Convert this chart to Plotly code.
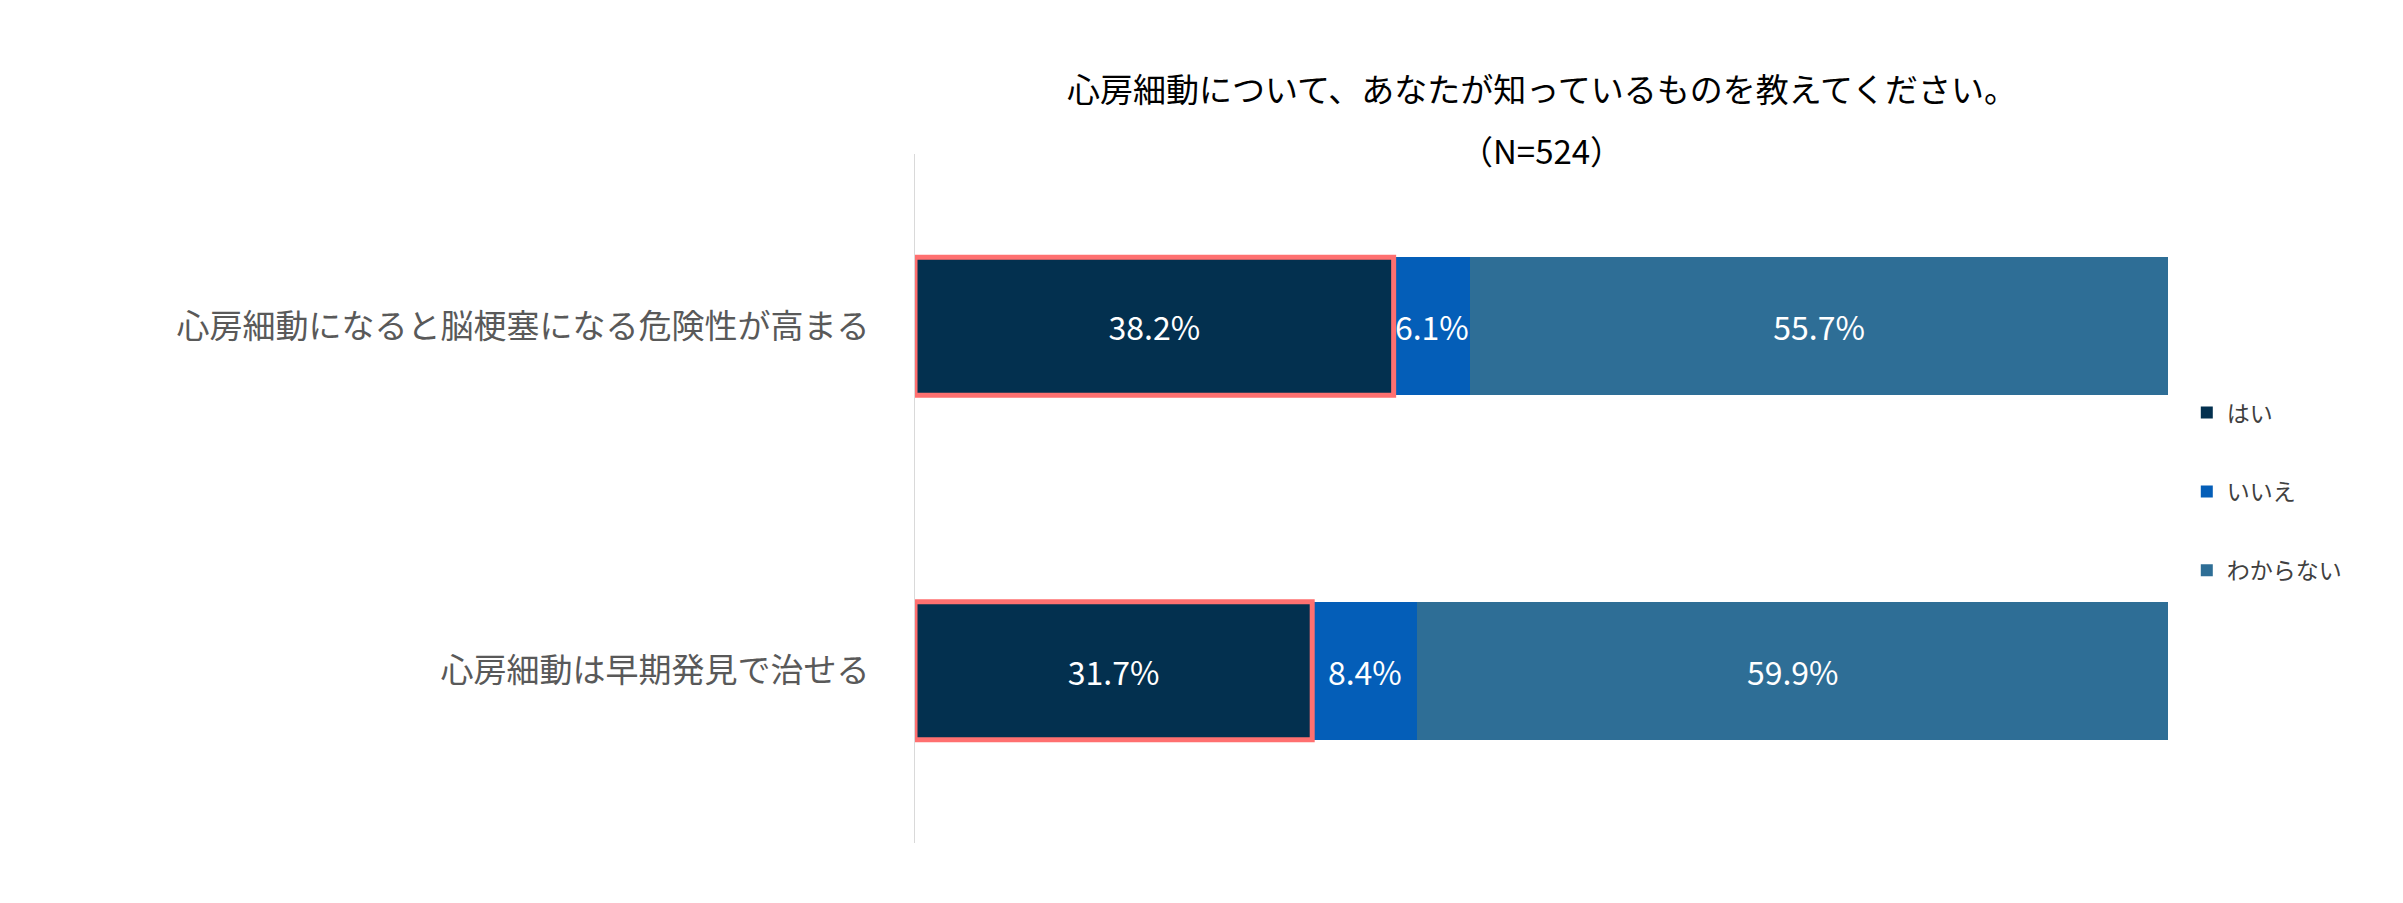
import plotly.graph_objects as go

categories = ["心房細動になると脳梗塞になる危険性が高まる", "心房細動は早期発見で治せる"]
hai = [38.2, 31.7]
iie = [6.1, 8.4]
wakaranai = [55.7, 59.9]
series = [("はい", hai, "#03304F"), ("いいえ", iie, "#045EB8"), ("わからない", wakaranai, "#2E6E96")]

FONT = "Noto Sans CJK JP"

fig = go.Figure()
for name, vals, col in series:
    fig.add_trace(go.Bar(
        y=categories, x=vals, name=name, orientation="h", width=0.4,
        marker=dict(color=col, line=dict(width=0)),
        text=[f"{v:.1f}%" for v in vals], textposition="inside", textangle=0,
        insidetextanchor="middle", constraintext="none",
        textfont=dict(color="white", size=32, family=FONT),
        legendgroup=name, hoverinfo="skip",
    ))

# red highlight around the "はい" segments
for i, v in enumerate(hai):
    fig.add_shape(type="rect", xref="x", yref="y", x0=0, x1=v, y0=i - 0.2, y1=i + 0.2,
                  line=dict(color="#FF7070", width=5), fillcolor="rgba(0,0,0,0)")

fig.add_annotation(text="心房細動について、あなたが知っているものを教えてください。",
                   xref="paper", yref="paper", x=0.5, y=1, yshift=92, showarrow=False,
                   font=dict(size=33, color="black", family=FONT))
fig.add_annotation(text="（N=524）",
                   xref="paper", yref="paper", x=0.5, y=1, yshift=30, showarrow=False,
                   font=dict(size=33, color="black", family=FONT))

fig.update_layout(
    barmode="stack", width=2403, height=903,
    plot_bgcolor="white", paper_bgcolor="white",
    margin=dict(l=907, r=243, t=146, b=68),
    font=dict(family=FONT, color="#404040"),
    legend=dict(x=1.015, xanchor="left", y=0.51, yanchor="middle",
                font=dict(size=23, color="#404040"), tracegroupgap=46,
                itemwidth=30),
    showlegend=True,
)
fig.update_xaxes(range=[0, 100], visible=False, showgrid=False)
fig.update_yaxes(autorange="reversed", showgrid=False, showline=True, linecolor="#D9D9D9",
                 linewidth=1, ticks="", ticklabelstandoff=38,
                 tickfont=dict(size=33, color="#595959", family=FONT))

fig.write_html("out.html")
